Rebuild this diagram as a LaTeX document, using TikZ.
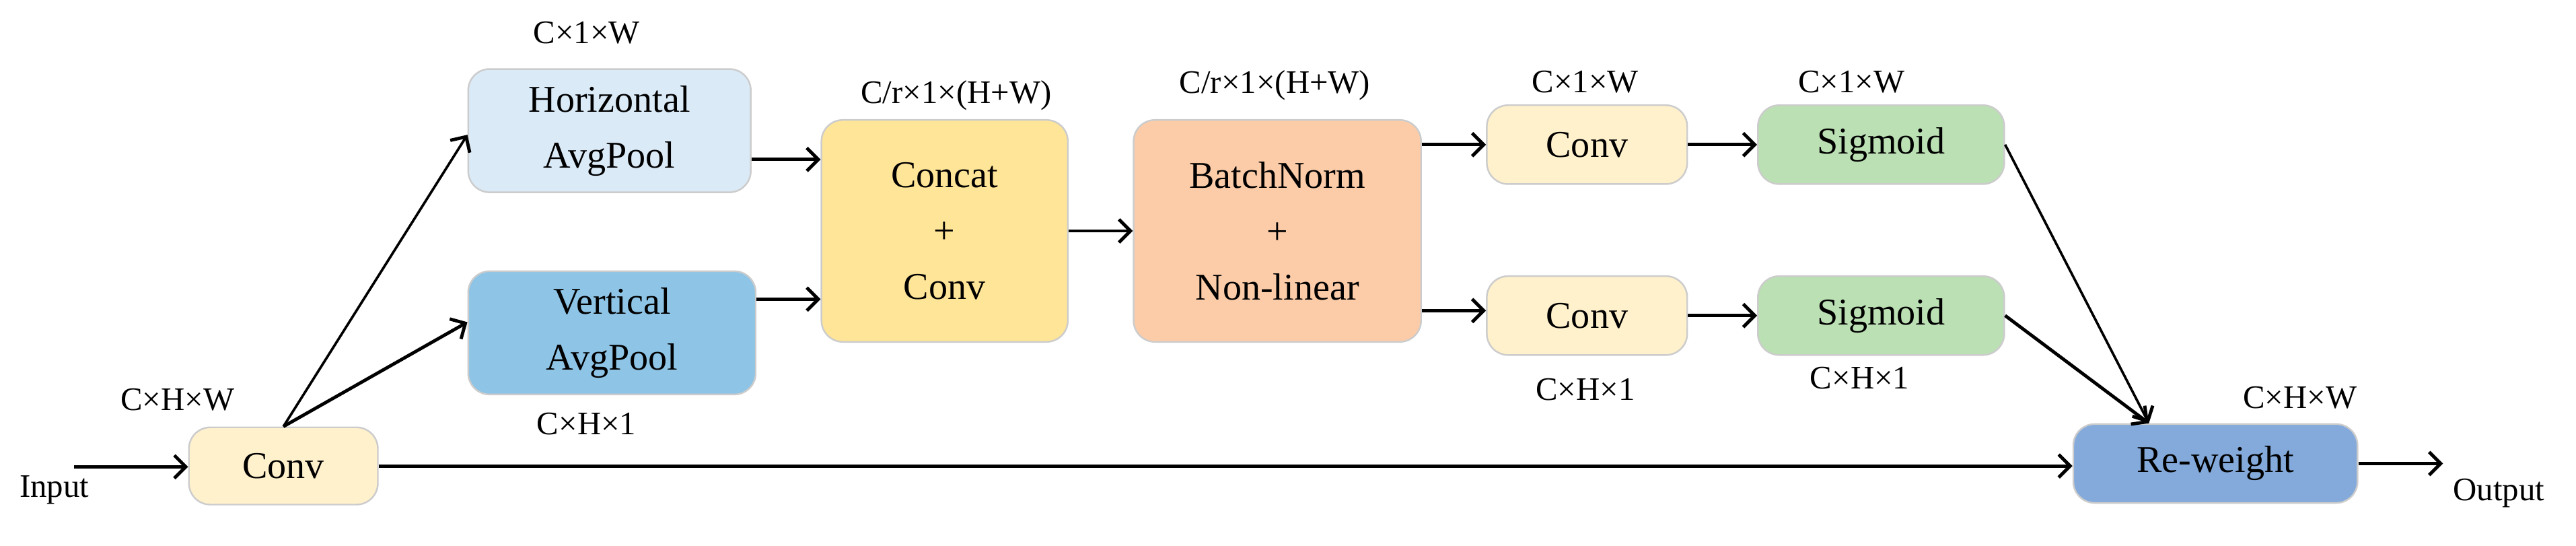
\documentclass[tikz,border=0pt]{standalone}
\usepackage{fontspec}
\setmainfont{Liberation Serif}
\usetikzlibrary{arrows.meta}
\definecolor{cH}{HTML}{DAEAF7}
\definecolor{cV}{HTML}{8EC4E6}
\definecolor{cC}{HTML}{FFF1CC}
\definecolor{cK}{HTML}{FFE597}
\definecolor{cB}{HTML}{FCCCA8}
\definecolor{cS}{HTML}{BBE0B3}
\definecolor{cR}{HTML}{84AADB}
\begin{document}
\begin{tikzpicture}[x=1pt,y=-1pt,
  box/.style={draw=black!20,line width=1pt,rounded corners=13pt,inner sep=0pt,align=center,font=\fontsize{23}{34}\selectfont},
  lab/.style={font=\fontsize{20}{24}\selectfont,inner sep=0pt},
  arr/.style={line width=2pt,-{Straight Barb[length=7pt,width=14pt,line width=2pt]}},
  thin/.style={line width=1.5pt,-{Straight Barb[length=7pt,width=14pt,line width=2pt]}}]
\useasboundingbox (0,0) rectangle (1568,332);
\node[box,fill=cC,minimum width=115,minimum height=47] (c1) at (172.5,283.5) {Conv};
\node[box,fill=cH,minimum width=172,minimum height=75] (h) at (371,79.5) {Horizontal\\AvgPool};
\node[box,fill=cV,minimum width=175,minimum height=75] (v) at (372.5,202.5) {Vertical\\AvgPool};
\node[box,fill=cK,minimum width=150,minimum height=135] (k) at (575,140.5) {Concat\\+\\Conv};
\node[box,fill=cB,minimum width=175,minimum height=135] (b) at (777.5,140.5) {BatchNorm\\+\\Non-linear};
\node[box,fill=cC,minimum width=122,minimum height=48] (ct) at (966,88) {Conv};
\node[box,fill=cS,minimum width=150,minimum height=48] (st) at (1145,88) {Sigmoid};
\node[box,fill=cC,minimum width=122,minimum height=48] (cb) at (966,192) {Conv};
\node[box,fill=cS,minimum width=150,minimum height=48] (sb) at (1145,192) {Sigmoid};
\node[box,fill=cR,minimum width=173,minimum height=48] (r) at (1348.5,282) {Re-weight};
\node[lab] (tin) at (33,298) {Input};
\node[lab] (tout) at (1521,300) {Output};
\node[lab] at (108,243) {C×H×W};
\node[lab] at (357,20) {C×1×W};
\node[lab] at (357,258) {C×H×1};
\node[lab] at (582,58) {C/r×1×(H+W)};
\node[lab] at (776,52) {C/r×1×(H+W)};
\node[lab] at (965,50) {C×1×W};
\node[lab] at (1127,50) {C×1×W};
\node[lab] at (965,237) {C×H×1};
\node[lab] at (1132,230) {C×H×1};
\node[lab] at (1400,242) {C×H×W};
\coordinate (ins) at (45,284);
\coordinate (oute) at (1487,282);
\draw[arr] (ins) -- (c1.west|-ins);
\draw[thin] (c1.north) -- (h.west|-0,82);
\draw[arr] (c1.north) -- (v.west|-0,196);
\draw[arr] (h.east|-0,97) -- (k.west|-0,97);
\draw[arr] (v.east|-0,182) -- (k.west|-0,182);
\draw[arr] (k.east) -- (b.west);
\draw[arr] (b.east|-ct) -- (ct.west);
\draw[arr] (b.east|-0,189) -- (cb.west|-0,189);
\draw[arr] (ct.east) -- (st.west);
\draw[arr] (cb.east) -- (sb.west);
\draw[thin] (st.east) -- (r.north-|1308,0);
\draw[arr] (sb.east) -- (r.north-|1308,0);
\draw[arr] (c1.east) -- (r.west|-c1.east);
\draw[arr] (r.east) -- (oute);
\end{tikzpicture}
\end{document}
